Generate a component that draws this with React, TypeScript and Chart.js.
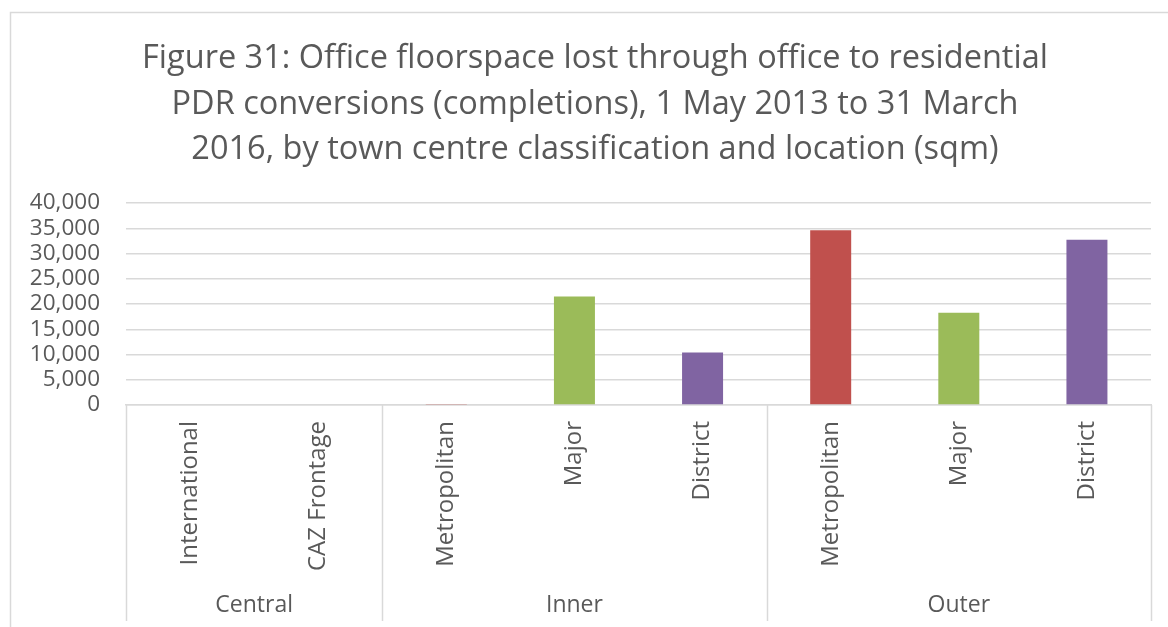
import React, { useEffect, useRef } from "react";
import { Chart, registerables } from "chart.js";

Chart.register(...registerables);

const categories = ["International", "CAZ Frontage", "Metropolitan", "Major", "District", "Metropolitan", "Major", "District"];
const values = [0, 0, 100, 21500, 10400, 34600, 18250, 32700];
const groups = ["Central", "Inner", "Outer"];
const groupSizes = [2, 3, 3];
const titleLines = [
  "Figure 31: Office floorspace lost through office to residential",
  "PDR conversions (completions), 1 May 2013 to 31 March",
  "2016, by town centre classification and location (sqm)",
];
const yTicks = [0, 5000, 10000, 15000, 20000, 25000, 30000, 35000, 40000];

const colorByType: Record<string, string> = {
  International: "#4F81BD",
  "CAZ Frontage": "#4F81BD",
  Metropolitan: "#C0504D",
  Major: "#9BBB59",
  District: "#8064A2",
};

const FONT = "'Open Sans', Lato, sans-serif";
const TEXT = "#595959";
const LINE = "#d9d9d9";

export default function App() {
  const ref = useRef<HTMLCanvasElement>(null);
  useEffect(() => {
    if (!ref.current) return;
    const decor = {
      id: "decor",
      beforeDraw(chart: any) {
        const ctx = chart.ctx;
        ctx.save();
        ctx.fillStyle = "#fff";
        ctx.fillRect(0, 0, chart.width, chart.height);
        ctx.strokeStyle = LINE;
        ctx.lineWidth = 1.5;
        ctx.strokeRect(10.5, 12.5, 1300, 700);
        ctx.restore();
      },
      afterDraw(chart: any) {
        const ctx = chart.ctx;
        const xs = chart.scales.x;
        ctx.save();
        // title
        ctx.fillStyle = TEXT;
        ctx.font = `32.5px ${FONT}`;
        ctx.textAlign = "center";
        ctx.textBaseline = "alphabetic";
        titleLines.forEach((t, i) => ctx.fillText(t, 595, 68 + i * 45.5));
        // group separators and labels
        const top = xs.top;
        const bottom = xs.bottom;
        ctx.strokeStyle = LINE;
        ctx.lineWidth = 1.5;
        let idx = 0;
        const bounds: number[] = [xs.left];
        groupSizes.forEach((n) => {
          idx += n;
          if (idx < categories.length) {
            bounds.push((xs.getPixelForValue(idx - 1) + xs.getPixelForValue(idx)) / 2);
          } else {
            bounds.push(xs.right);
          }
        });
        bounds.forEach((b) => {
          ctx.beginPath();
          ctx.moveTo(Math.round(b) + 0.5, top);
          ctx.lineTo(Math.round(b) + 0.5, bottom);
          ctx.stroke();
        });
        ctx.fillStyle = TEXT;
        ctx.font = `23px ${FONT}`;
        ctx.textBaseline = "middle";
        groups.forEach((g, i) => {
          ctx.fillText(g, (bounds[i] + bounds[i + 1]) / 2, bottom - 16);
        });
        ctx.restore();
      },
    };
    const chart = new Chart(ref.current, {
      type: "bar",
      data: {
        labels: categories,
        datasets: [
          {
            data: values,
            backgroundColor: categories.map((c) => colorByType[c]),
            barPercentage: 0.32,
            categoryPercentage: 1,
          },
        ],
      },
      plugins: [decor],
      options: {
        animation: false,
        responsive: false,
        maintainAspectRatio: false,
        layout: { padding: { top: 203, left: 0, right: 17, bottom: 6 } },
        plugins: { legend: { display: false }, title: { display: false }, tooltip: { enabled: false } },
        scales: {
          x: {
            grid: { display: false, drawTicks: false },
            border: { display: true, color: LINE, width: 1.5 },
            ticks: {
              color: TEXT,
              font: { family: FONT, size: 24 },
              minRotation: 90,
              maxRotation: 90,
              autoSkip: false,
              padding: 16,
            },
            afterFit(scale: any) {
              scale.height = 216;
            },
          },
          y: {
            min: 0,
            max: 40000,
            afterBuildTicks(scale: any) {
              scale.ticks = yTicks.map((v) => ({ value: v }));
            },
            grid: { color: LINE, lineWidth: 1.5, drawTicks: false },
            border: { display: false },
            ticks: {
              color: TEXT,
              font: { family: FONT, size: 22.5 },
              padding: 26,
              autoSkip: false,
              callback: (v: any) => Number(v).toLocaleString("en-US"),
            },
            afterFit(scale: any) {
              scale.width = 126;
            },
          },
        },
      },
    });
    return () => chart.destroy();
  }, []);
  return (
    <div style={{ position: "fixed", left: 0, top: 0, width: 1168, height: 627 }}>
      <canvas ref={ref} width={1168} height={627} style={{ width: 1168, height: 627 }} />
    </div>
  );
}
